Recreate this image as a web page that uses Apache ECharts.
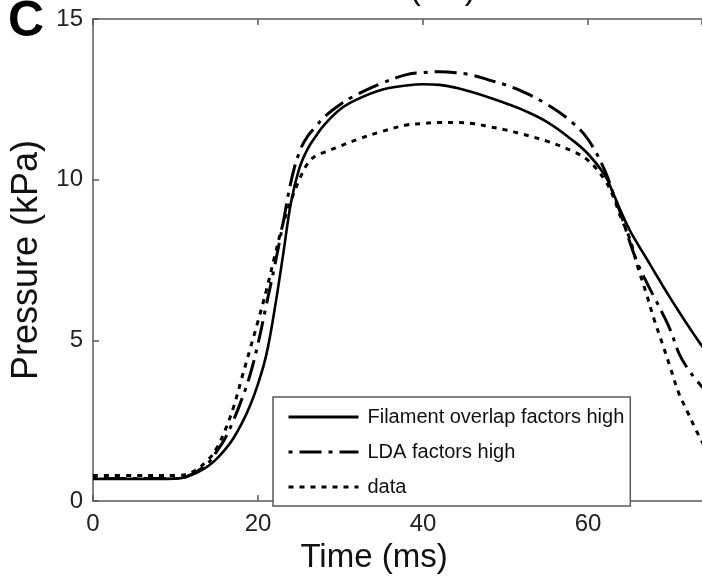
<!DOCTYPE html>
<html>
<head>
<meta charset="utf-8">
<script src="https://cdn.jsdelivr.net/npm/echarts@6/dist/echarts.min.js"></script>
<style>
  html, body { margin: 0; padding: 0; background: #fff; }
  #chart { width: 702px; height: 579px; }
</style>
</head>
<body>
<div id="chart"></div>
<script>
// time axis (ms), shared by all three traces
const times = [0, 5, 10, 12, 14, 15, 16, 17, 18, 19, 20, 21, 22, 23, 24, 25, 26, 27, 28, 30,
  32, 35, 38, 40, 42, 44, 46, 48, 50, 52, 55, 58, 60, 62, 63, 64, 65, 66, 67, 68,
  69, 70, 71, 72, 73, 74];

// pressure (kPa)
const filament = [0.69, 0.69, 0.7, 0.82, 1.1, 1.32, 1.6, 1.95, 2.4, 2.95, 3.65, 4.55, 5.95, 7.6, 9.3, 10.35, 10.95, 11.35, 11.7, 12.2,
  12.5, 12.8, 12.93, 12.97, 12.95, 12.86, 12.72, 12.56, 12.38, 12.18, 11.8, 11.25, 10.8, 10.15, 9.6, 9.0, 8.45, 8.0, 7.58, 7.15,
  6.72, 6.3, 5.9, 5.5, 5.12, 4.75];
const lda = [0.7, 0.7, 0.7, 0.84, 1.2, 1.55, 1.95, 2.5, 3.15, 3.9, 4.9, 6.1, 7.3, 8.6, 9.95, 10.85, 11.35, 11.65, 11.95, 12.35,
  12.65, 13.0, 13.27, 13.33, 13.36, 13.33, 13.25, 13.1, 12.95, 12.75, 12.35, 11.8, 11.25, 10.3, 9.6, 8.9, 8.1, 7.4, 6.85, 6.35,
  5.85, 5.3, 4.6, 4.15, 3.8, 3.5];
const measured = [0.8, 0.8, 0.8, 0.9, 1.3, 1.65, 2.2, 2.9, 3.8, 4.7, 5.6, 6.55, 7.6, 8.6, 9.35, 10.0, 10.5, 10.75, 10.85, 11.05,
  11.25, 11.5, 11.7, 11.75, 11.78, 11.78, 11.75, 11.65, 11.55, 11.42, 11.2, 10.9, 10.6, 10.0, 9.5, 8.8, 8.2, 7.3, 6.5, 5.65,
  4.9, 4.12, 3.35, 2.8, 2.25, 1.75];

const seriesNames = ['Filament overlap factors high', 'LDA factors high', 'data'];
const xTicks = [0, 20, 40, 60];
const yTicks = [0, 5, 10, 15];

const pairs = vals => times.map((t, i) => [t, vals[i]]);

const chart = echarts.init(document.getElementById('chart'));
const axisGray = '#5a5a5a';
const font = '"Liberation Sans", Arial, sans-serif';

chart.setOption({
  animation: false,
  backgroundColor: '#fff',
  color: ['#000', '#000', '#000'],
  grid: { left: 93, top: 19, right: 0, bottom: 74 },
  graphic: [
    { type: 'text', left: 8, top: -3, style: { text: 'C', font: 'bold 50px ' + font, fill: '#000' } },
    { type: 'text', x: 402, y: -10, style: { text: 'Time (ms)', font: '33px ' + font, fill: '#111', align: 'center', verticalAlign: 'middle' } }
  ],
  legend: {
    data: seriesNames,
    orient: 'vertical',
    left: 273,
    top: 397,
    itemWidth: 70,
    itemHeight: 14,
    itemGap: 15,
    padding: [10, 6, 9, 14],
    borderColor: axisGray,
    borderWidth: 1.5,
    backgroundColor: '#fff',
    itemStyle: { opacity: 0 },
    lineStyle: { width: 3 },
    textStyle: { fontSize: 20, fontFamily: font, color: '#111', padding: [0, 0, 0, 4] }
  },
  xAxis: [{
    type: 'value',
    min: 0,
    max: 73.8,
    interval: 20,
    name: 'Time (ms)',
    nameLocation: 'middle',
    nameGap: 34,
    nameTextStyle: { fontSize: 33, fontFamily: font, color: '#111', padding: [0, 47, 0, 0] },
    axisLine: { lineStyle: { color: axisGray, width: 1.5 } },
    axisTick: { inside: true, length: 6, lineStyle: { color: axisGray, width: 1.5 } },
    axisLabel: {
      fontSize: 24, fontFamily: font, color: '#222', margin: 11, showMaxLabel: false,
      formatter: v => xTicks.includes(v) ? String(v) : ''
    },
    splitLine: { show: false }
  }, {
    type: 'value',
    position: 'top',
    min: 0,
    max: 73.8,
    interval: 20,
    axisLine: { lineStyle: { color: axisGray, width: 1.5 } },
    axisTick: { inside: true, length: 6, lineStyle: { color: axisGray, width: 1.5 } },
    axisLabel: { show: false },
    splitLine: { show: false }
  }],
  yAxis: {
    type: 'value',
    min: 0,
    max: 15,
    interval: 5,
    name: 'Pressure (kPa)',
    nameLocation: 'middle',
    nameGap: 44,
    nameTextStyle: { fontSize: 36, fontFamily: font, color: '#111' },
    axisLine: { show: true, lineStyle: { color: axisGray, width: 1.5 } },
    axisTick: { show: true, inside: true, length: 6, lineStyle: { color: axisGray, width: 1.5 } },
    axisLabel: {
      fontSize: 24, fontFamily: font, color: '#222', margin: 10,
      formatter: v => yTicks.includes(v) ? String(v) : ''
    },
    splitLine: { show: false }
  },
  series: [{
    name: seriesNames[0],
    type: 'line',
    data: pairs(filament),
    symbol: 'none',
    smooth: 0.4,
    lineStyle: { color: '#000', width: 2.6, type: 'solid' },
    z: 3
  }, {
    name: seriesNames[1],
    type: 'line',
    data: pairs(lda),
    symbol: 'none',
    smooth: 0.4,
    lineStyle: { color: '#000', width: 3, type: [4, 7, 22, 7] },
    z: 3
  }, {
    name: seriesNames[2],
    type: 'line',
    data: pairs(measured),
    symbol: 'none',
    smooth: 0.4,
    lineStyle: { color: '#000', width: 3, type: [5, 6] },
    z: 3
  }]
});
</script>
</body>
</html>
